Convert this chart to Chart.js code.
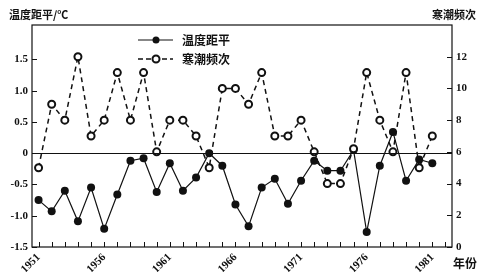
<!DOCTYPE html>
<html>
<head>
<meta charset="utf-8">
<script src="https://cdn.jsdelivr.net/npm/chart.js@4"></script>
<style>
  html, body { margin: 0; padding: 0; background: #fff; }
  #wrap { width: 478px; height: 272px; position: relative; }
</style>
</head>
<body>
<div id="wrap"><canvas id="chart"></canvas></div>
<script>
// Years on the x axis
const years = [1951, 1952, 1953, 1954, 1955, 1956, 1957, 1958, 1959, 1960,
  1961, 1962, 1963, 1964, 1965, 1966, 1967, 1968, 1969, 1970,
  1971, 1972, 1973, 1974, 1975, 1976, 1977, 1978, 1979, 1980, 1981];

// Temperature anomaly (left axis, °C)
const tempAnomaly = [-0.75, -0.93, -0.6, -1.09, -0.55, -1.21, -0.66, -0.12, -0.08, -0.62,
  -0.16, -0.6, -0.39, 0.0, -0.2, -0.82, -1.17, -0.55, -0.41, -0.81,
  -0.44, -0.12, -0.28, -0.28, 0.05, -1.26, -0.2, 0.34, -0.44, -0.1, -0.16];

// Cold wave frequency (right axis)
const coldWaves = [5, 9, 8, 12, 7, 8, 11, 8, 11, 6,
  8, 8, 7, 5, 10, 10, 9, 11, 7, 7,
  8, 6, 4, 4, 6.2, 11, 8, 6, 11, 5, 7];

// Tick labels
const xLabelYears = [1951, 1956, 1961, 1966, 1971, 1976, 1981];
const leftTicks = [-1.5, -1.0, -0.5, 0, 0.5, 1.0, 1.5];
const rightTicks = [0, 2, 4, 6, 8, 10, 12];

const numFont = { family: "'Liberation Serif', serif", size: 11, weight: "bold" };
const cjkFont = "'Noto Sans CJK SC', sans-serif";

// Draws the frame, zero line, inward ticks, legend and axis titles
const decorations = {
  id: "decorations",
  afterDatasetsDraw(chart) {
    const ctx = chart.ctx;
    const area = chart.chartArea;
    const x = chart.scales.x;
    const y = chart.scales.y;
    const y1 = chart.scales.y1;
    ctx.save();
    ctx.strokeStyle = "#111";
    ctx.lineWidth = 1.2;

    // frame
    ctx.strokeRect(area.left, area.top, area.right - area.left, area.bottom - area.top);

    // zero line
    const y0 = Math.round(y.getPixelForValue(0)) + 0.5;
    ctx.beginPath();
    ctx.moveTo(area.left, y0);
    ctx.lineTo(area.right, y0);
    ctx.stroke();

    // inward ticks
    ctx.lineWidth = 1;
    ctx.beginPath();
    years.concat([1982]).forEach(yr => {
      const px = Math.round(x.getPixelForValue(yr)) + 0.5;
      ctx.moveTo(px, area.bottom);
      ctx.lineTo(px, area.bottom - 5);
    });
    leftTicks.forEach(v => {
      const py = Math.round(y.getPixelForValue(v)) + 0.5;
      ctx.moveTo(area.left, py);
      ctx.lineTo(area.left + 5, py);
    });
    rightTicks.forEach(v => {
      const py = Math.round(y1.getPixelForValue(v)) + 0.5;
      ctx.moveTo(area.right, py);
      ctx.lineTo(area.right - 5, py);
    });
    ctx.stroke();

    // legend
    const lx1 = 138, lx2 = 173, lcx = 156;
    ctx.lineWidth = 1.2;
    ctx.setLineDash([]);
    ctx.beginPath();
    ctx.moveTo(lx1, 40);
    ctx.lineTo(lx2, 40);
    ctx.stroke();
    ctx.fillStyle = "#111";
    ctx.beginPath();
    ctx.arc(lcx, 40, 3.5, 0, Math.PI * 2);
    ctx.fill();

    ctx.lineWidth = 1.4;
    ctx.setLineDash([5, 3]);
    ctx.beginPath();
    ctx.moveTo(lx1, 59);
    ctx.lineTo(lx2, 59);
    ctx.stroke();
    ctx.setLineDash([]);
    ctx.fillStyle = "#fff";
    ctx.lineWidth = 2;
    ctx.beginPath();
    ctx.arc(lcx, 59, 3.5, 0, Math.PI * 2);
    ctx.fill();
    ctx.stroke();

    ctx.fillStyle = "#111";
    ctx.font = "bold 12px " + cjkFont;
    ctx.textBaseline = "middle";
    ctx.textAlign = "left";
    ctx.fillText("温度距平", 182, 40);
    ctx.fillText("寒潮频次", 182, 59);

    // axis titles
    ctx.font = "bold 11px " + cjkFont;
    ctx.fillText("温度距平/℃", 9, 15);
    ctx.textAlign = "right";
    ctx.fillText("寒潮频次", 476, 15);
    ctx.font = "bold 12px " + cjkFont;
    ctx.fillText("年份", 477, 263);
    ctx.restore();
  }
};

new Chart(document.getElementById("chart"), {
  type: "line",
  data: {
    datasets: [
      {
        label: "寒潮频次",
        data: years.map((yr, i) => ({ x: yr, y: coldWaves[i] })),
        yAxisID: "y1",
        borderColor: "#111",
        borderWidth: 1.5,
        borderDash: [5, 4],
        pointRadius: 3.5,
        pointBorderWidth: 2,
        pointBackgroundColor: "#fff",
        pointBorderColor: "#111",
        tension: 0,
      },
      {
        label: "温度距平",
        data: years.map((yr, i) => ({ x: yr, y: tempAnomaly[i] })),
        yAxisID: "y",
        borderColor: "#111",
        borderWidth: 1.2,
        pointRadius: 4,
        pointBorderWidth: 0,
        pointBackgroundColor: "#111",
        tension: 0,
      },
    ],
  },
  options: {
    responsive: true,
    maintainAspectRatio: false,
    animation: false,
    layout: { padding: { top: 25, left: 0, right: 0, bottom: 0 } },
    plugins: { legend: { display: false }, tooltip: { enabled: false } },
    scales: {
      x: {
        type: "linear",
        min: 1950.5,
        max: 1982.5,
        afterBuildTicks: axis => { axis.ticks = xLabelYears.map(v => ({ value: v })); },
        afterFit: axis => { axis.height = 25; },
        grid: { display: false, drawTicks: false },
        border: { display: false },
        ticks: {
          autoSkip: false,
          minRotation: 45,
          maxRotation: 45,
          padding: 4,
          color: "#111",
          font: numFont,
          callback: v => String(v),
        },
      },
      y: {
        position: "left",
        min: -1.5,
        max: 2.05,
        afterBuildTicks: axis => { axis.ticks = leftTicks.map(v => ({ value: v })); },
        afterFit: axis => { axis.width = 32; },
        grid: { display: false, drawTicks: false },
        border: { display: false },
        ticks: {
          padding: 4,
          color: "#111",
          font: numFont,
          callback: v => (v === 0 ? "0" : v.toFixed(1)),
        },
      },
      y1: {
        position: "right",
        min: 0,
        max: 14,
        afterBuildTicks: axis => { axis.ticks = rightTicks.map(v => ({ value: v })); },
        afterFit: axis => { axis.width = 26; },
        grid: { display: false, drawTicks: false },
        border: { display: false },
        ticks: {
          padding: 4,
          color: "#111",
          font: numFont,
          callback: v => String(v),
        },
      },
    },
  },
  plugins: [decorations],
});
</script>
</body>
</html>
